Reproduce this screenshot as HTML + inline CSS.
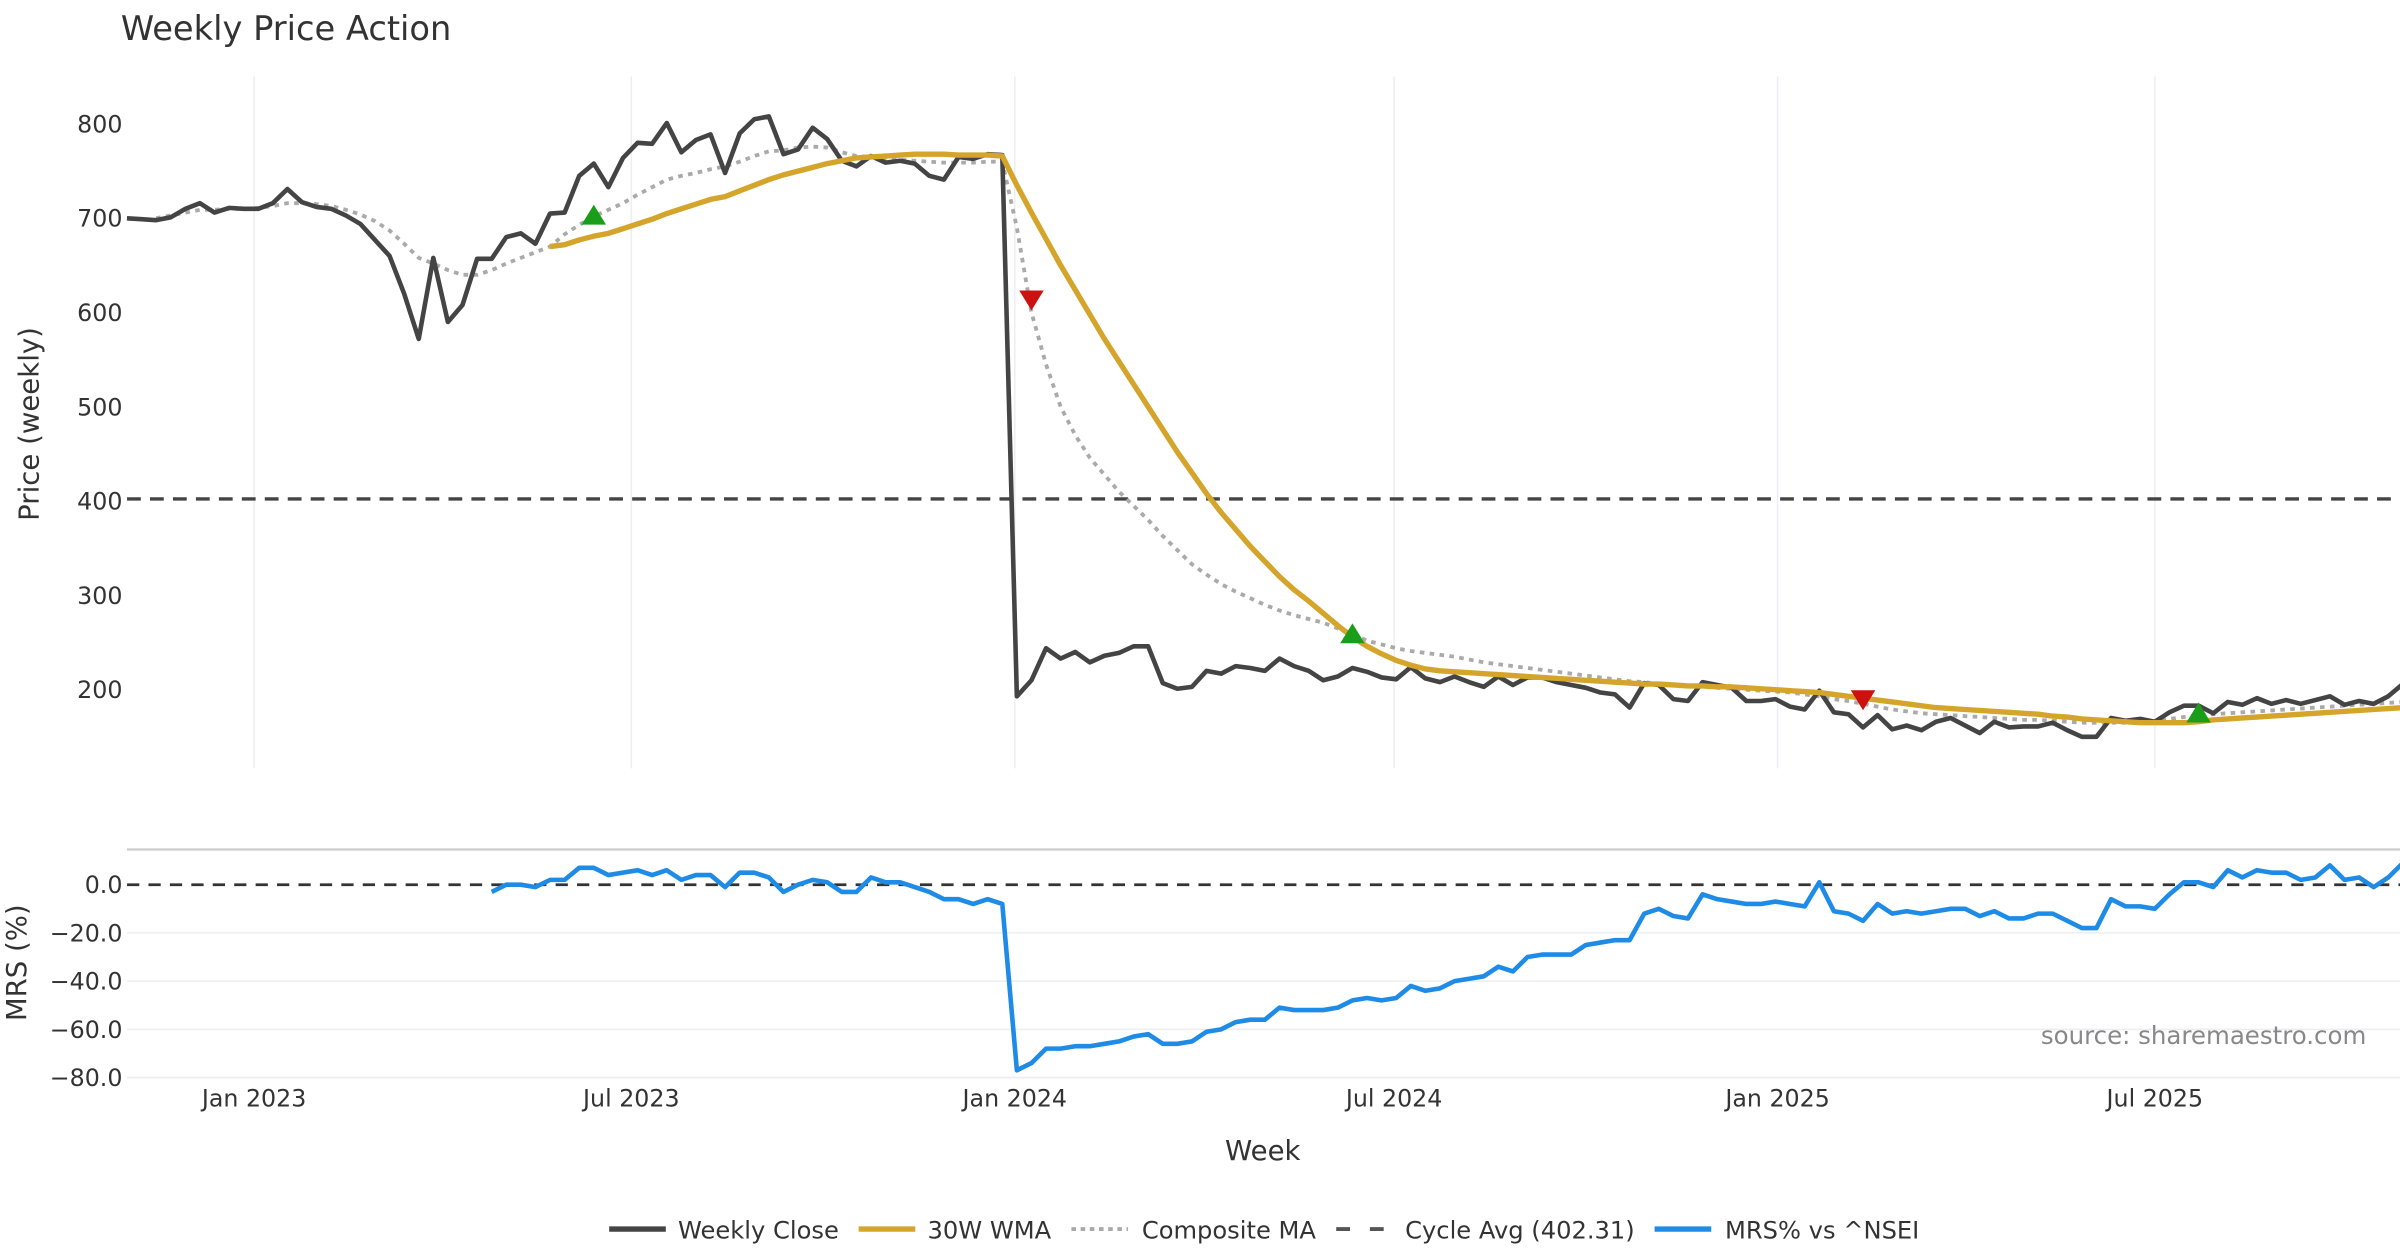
<!DOCTYPE html>
<html><head><meta charset="utf-8"><style>
html,body{margin:0;padding:0;background:#fff;}
svg{display:block;font-family:"DejaVu Sans","Liberation Sans",sans-serif;}
</style></head><body>
<svg id="chart" width="2400" height="1260" viewBox="0 0 1568 823.2" xmlns="http://www.w3.org/2000/svg">
<text x="79" y="26" font-size="22" fill="#333">Weekly Price Action</text>
<g id="grid"></g>
<g id="marks"></g>
<text transform="translate(25,277) rotate(-90)" text-anchor="middle" font-size="18" fill="#333">Price (weekly)</text>
<text transform="translate(17,629) rotate(-90)" text-anchor="middle" font-size="18" fill="#333">MRS (%)</text>
<text x="825" y="758" text-anchor="middle" font-size="18" fill="#333">Week</text>
<text x="1546" y="682" text-anchor="end" font-size="16" fill="#888">source: sharemaestro.com</text>
<g font-size="15.8" fill="#333">
 <g><line x1="398" y1="803" x2="435" y2="803" stroke="#444" stroke-width="3.5"/><text x="443" y="809">Weekly Close</text></g>
 <g><line x1="561" y1="803" x2="598" y2="803" stroke="#d4a52a" stroke-width="3.5"/><text x="606" y="809">30W WMA</text></g>
 <g><line x1="700" y1="803" x2="737" y2="803" stroke="#aaa" stroke-width="2.5" stroke-dasharray="3,3"/><text x="746" y="809">Composite MA</text></g>
 <g><line x1="873" y1="803" x2="910" y2="803" stroke="#555" stroke-width="2.5" stroke-dasharray="9,13"/><text x="918" y="809">Cycle Avg (402.31)</text></g>
 <g><line x1="1081" y1="803" x2="1118" y2="803" stroke="#1e8ce6" stroke-width="3.5"/><text x="1127" y="809">MRS% vs ^NSEI</text></g>
</g>
</svg>
<script>
const startDate = "2022-11-01";
const close = [700,699,698,701,710,716,706,711,710,710,716,731,717,712,710,703,694,677,660,620,572,658,590,608,657,657,680,684,673,705,706,745,758,733,764,780,779,801,770,783,789,748,790,805,808,768,773,796,784,761,755,766,759,761,758,745,741,765,763,768,767,193,210,244,233,240,229,236,239,246,246,207,201,203,220,217,225,223,220,233,225,220,210,214,223,219,213,211,224,212,208,214,208,203,214,205,213,213,208,205,202,197,195,181,207,205,190,188,208,205,202,188,188,190,182,179,199,176,174,160,173,158,162,157,166,170,162,154,166,160,161,161,165,157,150,150,170,167,169,166,176,183,183,175,187,184,191,185,189,185,189,193,184,188,185,193,206];
const wmaStart = 29;
const wma = [670,672,677,681,684,689,694,699,705,710,715,720,723,729,735,741,746,750,754,758,761,764,765,766,767,768,768,768,767,767,767,766,
735,706,678,650,624,598,572,548,524,500,476,452,430,408,388,370,352,336,320,306,294,281,268,256,246,238,231,226,222,220,219,218,217,216,215,214,213,212,211,210,209,208,207,206,206,205,204,204,203,203,202,201,200,199,198,197,195,193,191,189,187,185,183,181,180,179,178,177,176,175,174,172,171,169,168,167,166,165,165,165,165,166,168,169,170,171,172,173,174,175,176,177,178,179,180,181];
const compStart = 2;
const composite = [700,703,706,709,709,710,710,711,713,716,716,715,713,709,704,697,687,673,658,652,645,640,640,645,652,658,664,670,683,693,702,709,716,725,733,741,745,748,752,755,760,766,771,772,775,776,775,770,766,765,763,762,761,760,759,759,759,760,760,
690,600,545,500,470,446,428,410,395,380,363,348,333,322,312,304,297,290,284,279,275,271,265,259,252,248,244,241,239,237,235,232,229,227,225,223,221,219,217,215,213,211,209,208,206,205,204,203,202,201,200,199,198,197,195,193,190,188,185,182,179,177,175,174,173,172,171,170,169,168,168,167,166,165,165,165,165,166,167,169,171,173,174,175,176,177,178,179,180,181,182,183,184,185,186,187];
const mrsStart = 25;
const mrs = [-3,0,0,-1,2,2,7,7,4,5,6,4,6,2,4,4,-1,5,5,3,-3,0,2,1,-3,-3,3,1,1,-1,-3,-6,-6,-8,-6,-8,
-77,-74,-68,-68,-67,-67,-66,-65,-63,-62,-66,-66,-65,-61,-60,-57,-56,-56,-51,-52,-52,-52,-51,-48,-47,-48,-47,-42,-44,-43,-40,-39,-38,-34,-36,-30,-29,-29,-29,-25,-24,-23,-23,-12,-10,-13,-14,-4,-6,-7,-8,-8,-7,-8,-9,1,-11,-12,-15,-8,-12,-11,-12,-11,-10,-10,-13,-11,-14,-14,-12,-12,-15,-18,-18,-6,-9,-9,-10,-4,1,1,-1,6,3,6,5,5,2,3,8,2,3,-1,3,9];
const cycleAvg = 402.31;
const signalIdx = [32,62,84,119,142];
const signalVal = [703,612,259,188,175];
const signalDir = ["up","down","up","down","up"];
const priceTicks = [200,300,400,500,600,700,800];
const mrsTicks = [0,-20,-40,-60,-80];
const xTickDates = ["2023-01-01","2023-07-01","2024-01-01","2024-07-01","2025-01-01","2025-07-01"];
const xTickLabels = ["Jan 2023","Jul 2023","Jan 2024","Jul 2024","Jan 2025","Jul 2025"];

const NS="http://www.w3.org/2000/svg";
const DAY=86400000, X0=Date.UTC(2023,0,1), PXD=497/365;
function xDate(s){const p=s.split("-");return 166+(Date.UTC(+p[0],+p[1]-1,+p[2])-X0)/DAY*PXD;}
const sd=startDate.split("-"), S0=Date.UTC(+sd[0],+sd[1]-1,+sd[2]);
function xIdx(i){return 166+(S0+i*7*DAY-X0)/DAY*PXD;}
function yP(v){return 81+(800-v)*0.616;}
function yM(v){return 578-v*1.575;}
function mk(tag,attrs,parent){const e=document.createElementNS(NS,tag);for(const k in attrs)e.setAttribute(k,attrs[k]);parent.appendChild(e);return e;}
const grid=document.getElementById("grid"), marks=document.getElementById("marks");

xTickDates.forEach((d,k)=>{
  const x=xDate(d);
  const g1=mk("line",{x1:x,y1:50,x2:x,y2:502,stroke:"#eceef2","stroke-width":1},grid);
  
  
  const t=mk("text",{x:x,y:723,"text-anchor":"middle","font-size":15.5,fill:"#333"},grid);
  t.textContent=xTickLabels[k];
  
  
});
priceTicks.forEach(v=>{
  const t=mk("text",{x:80,y:yP(v)+5.5,"text-anchor":"end","font-size":15.5,fill:"#333"},grid);
  t.textContent=v;
  
  
});
const tb=mk("line",{x1:83,y1:555,x2:1568,y2:555,stroke:"#ccc","stroke-width":1.5},grid);


mrsTicks.forEach(v=>{
  if(v!==0){const gl=mk("line",{x1:83,y1:yM(v),x2:1568,y2:yM(v),stroke:"#eceef2","stroke-width":1},grid);
  
  }
  const t=mk("text",{x:80,y:yM(v)+5.5,"text-anchor":"end","font-size":15.5,fill:"#333"},grid);
  t.textContent=(v<0?"\u2212"+(-v).toFixed(1):v.toFixed(1));
  
  
});

function path(arr,start,yf){return arr.map((v,i)=>(i?"L":"M")+xIdx(start+i).toFixed(2)+","+yf(v).toFixed(2)).join("");}
const cy=mk("line",{x1:83,y1:yP(cycleAvg),x2:1568,y2:yP(cycleAvg),stroke:"#444","stroke-width":2.2,"stroke-dasharray":"9,6"},marks);


const cp=mk("path",{d:path(composite,compStart,yP),fill:"none",stroke:"#aaa","stroke-width":2.5,"stroke-dasharray":"3,3.5"},marks);


const cl=mk("path",{d:path(close,0,yP),fill:"none",stroke:"#444","stroke-width":3,"stroke-linejoin":"round"},marks);


const wl=mk("path",{d:path(wma,wmaStart,yP),fill:"none",stroke:"#d4a52a","stroke-width":3.5,"stroke-linejoin":"round"},marks);


const z=mk("line",{x1:83,y1:yM(0),x2:1568,y2:yM(0),stroke:"#333","stroke-width":1.8,"stroke-dasharray":"8,6"},marks);


const ml=mk("path",{d:path(mrs,mrsStart,yM),fill:"none",stroke:"#1e8ce6","stroke-width":3,"stroke-linejoin":"round"},marks);


signalIdx.forEach((idx,k)=>{
  const x=xIdx(idx), y=yP(signalVal[k]);
  const pts = signalDir[k]==="up" ? `${x-8},${y+6} ${x+8},${y+6} ${x},${y-7}` : `${x-8},${y-7} ${x+8},${y-7} ${x},${y+6}`;
  const m=mk("polygon",{points:pts,fill:signalDir[k]==="up"?"#1a9e1a":"#cc1111"},marks);
  
  
});
</script>
</body></html>
